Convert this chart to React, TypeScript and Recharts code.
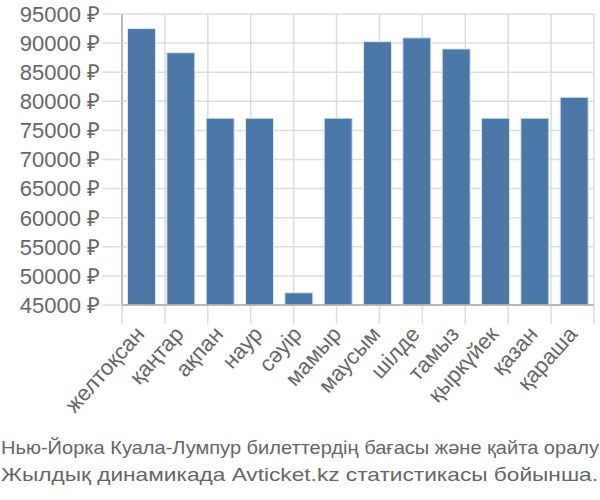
import React from 'react';
import { BarChart, Bar, XAxis, YAxis, CartesianGrid } from 'recharts';

const months = ['желтоқсан', 'қаңтар', 'ақпан', 'наур', 'сәуір', 'мамыр', 'маусым', 'шілде', 'тамыз', 'қыркүйек', 'қазан', 'қараша'];
const prices = [92500, 88350, 77100, 77100, 47100, 77100, 90250, 90900, 89000, 77100, 77100, 80700];
const yTicks = [45000, 50000, 55000, 60000, 65000, 70000, 75000, 80000, 85000, 90000, 95000];
const boundaryTicks = [0, 1, 2, 3, 4, 5, 6, 7, 8, 9, 10, 11, 12];
const titleLines = ['Нью-Йорка Куала-Лумпур билеттердің бағасы және қайта оралу', 'Жылдық динамикада Avticket.kz статистикасы бойынша.'];

const data = months.map((m, i) => ({ month: m, price: prices[i] }));

const FONT = '"Liberation Sans", Arial, sans-serif';

const XTick = (props: any) => {
  const { x, payload } = props;
  const tx = x + 4;
  const ty = 335;
  return (
    <text
      x={tx}
      y={ty}
      transform={`rotate(-48 ${tx} ${ty})`}
      textAnchor="end"
      fill="#666"
      fontSize={22}
      fontFamily={FONT}
    >
      {payload.value}
    </text>
  );
};

const EmptyTick = () => <g />;

export default function App() {
  return (
    <div style={{ position: 'absolute', left: 0, top: 0, width: 600, height: 500, background: '#fff', fontFamily: FONT }}>
      <BarChart
        width={600}
        height={420}
        data={data}
        margin={{ top: 14, right: 6, left: 0, bottom: 0 }}
        barCategoryGap="14%"
      >
        <CartesianGrid horizontal={true} vertical={false} stroke="#ddd" strokeWidth={1.5} />
        <CartesianGrid horizontal={false} vertical={true} xAxisId="b" stroke="#ddd" strokeWidth={1.5} />
        <XAxis
          xAxisId="b"
          type="number"
          domain={[0, 12]}
          ticks={boundaryTicks}
          tick={<EmptyTick />}
          tickSize={18}
          tickLine={{ stroke: '#ddd', strokeWidth: 1.5 }}
          axisLine={false}
          height={114}
          interval={0}
          orientation="bottom"
        />
        <XAxis
          dataKey="month"
          tick={<XTick />}
          tickLine={false}
          axisLine={{ stroke: '#aaa', strokeWidth: 1.5 }}
          interval={0}
          height={1}
        />
        <YAxis
          domain={[45000, 95000]}
          ticks={yTicks}
          interval={0}
          width={122}
          tickSize={20}
          tickLine={{ stroke: '#ddd', strokeWidth: 1.5 }}
          axisLine={{ stroke: '#aaa', strokeWidth: 1.5 }}
          tick={{ fill: '#666', fontSize: 22, fontFamily: FONT }}
          tickFormatter={(v: number) => `${v} ₽`}
          allowDataOverflow
        />
        <Bar dataKey="price" fill="#4C78A8" stroke="#dce6f0" strokeWidth={1} isAnimationActive={false} />
      </BarChart>
      <svg width={600} height={80} style={{ display: 'block' }}>
        {titleLines.map((t, i) => (
          <text
            key={t}
            x={1}
            y={34 + i * 27}
            textLength={i === 0 ? 598 : 597}
            lengthAdjust="spacingAndGlyphs"
            fill="#666"
            fontSize={19}
            fontFamily={FONT}
          >
            {t}
          </text>
        ))}
      </svg>
    </div>
  );
}
